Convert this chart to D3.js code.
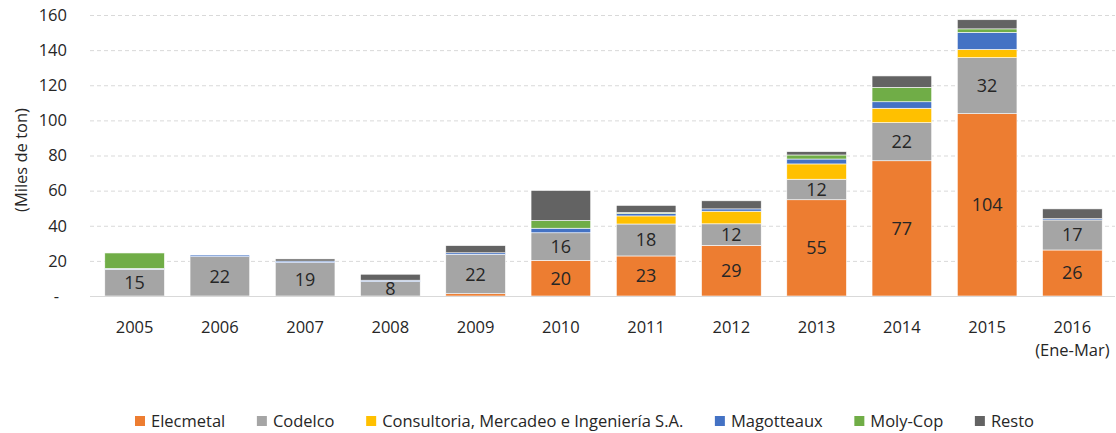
<!DOCTYPE html>
<html>
<head>
<meta charset="utf-8">
<script src="https://cdn.jsdelivr.net/npm/d3@7"></script>
<style>
  body { margin: 0; background: #fff; }
  svg text { font-family: "Open Sans", "Noto Sans", sans-serif; fill: #262626; }
</style>
</head>
<body>
<div id="chart"></div>
<script>
(function () {
  'use strict';

  // categories (2016 label has a second line)
  var years = ['2005', '2006', '2007', '2008', '2009', '2010', '2011', '2012', '2013', '2014', '2015', '2016\n(Ene-Mar)'];

  // series values, miles de ton
  var elecmetal   = [0, 0, 0, 0, 1.3, 20.3, 22.8, 28.8, 54.8, 77.0, 103.8, 26.2];
  var codelco     = [15.2, 22.4, 19.0, 8.2, 22.4, 15.7, 18.2, 12.3, 11.7, 21.7, 31.9, 17.1];
  var consultoria = [0, 0, 0, 0, 0, 0, 4.6, 7.2, 8.7, 8.2, 4.7, 0];
  var magotteaux  = [0.5, 0.9, 0.9, 0.8, 0.9, 2.6, 1.3, 1.3, 2.8, 3.7, 9.7, 0.7];
  var molycop     = [8.8, 0, 0, 0, 0, 4.4, 0.6, 0, 2.3, 8.2, 2.0, 0];
  var resto       = [0, 0, 1.2, 3.4, 4.1, 17.1, 4.1, 4.6, 1.9, 6.5, 5.2, 5.6];

  var seriesNames = ['Elecmetal', 'Codelco', 'Consultoria, Mercadeo e Ingeniería S.A.', 'Magotteaux', 'Moly-Cop', 'Resto'];
  var seriesValues = [elecmetal, codelco, consultoria, magotteaux, molycop, resto];
  var seriesColors = ['#ED7D31', '#A5A5A5', '#FFC000', '#4472C4', '#70AD47', '#636363'];
  // which series get value labels, and for which years
  var labelled = {0: ['2010', '2011', '2012', '2013', '2014', '2015', '2016\n(Ene-Mar)'], 1: years};

  var yTicks = [0, 20, 40, 60, 80, 100, 120, 140, 160];

  var width = 1116, height = 433;

  var rows = years.map(function (y, i) {
    var r = {year: y};
    seriesNames.forEach(function (n, k) { r[n] = seriesValues[k][i]; });
    return r;
  });

  var stacked = d3.stack().keys(seriesNames)(rows);

  var x = d3.scaleBand()
      .domain(years)
      .range([92, 1115])
      .paddingInner(0.3)
      .paddingOuter(0.15);

  var y = d3.scaleLinear()
      .domain([0, 160])
      .range([296, 15]);

  var svg = d3.select('#chart').append('svg')
      .attr('width', width)
      .attr('height', height);

  // gridlines
  svg.append('g').attr('class', 'grid')
      .selectAll('line')
      .data(yTicks.filter(function (d) { return d > 0; }))
      .enter()
      .append('line')
      .attr('x1', 90).attr('x2', 1115)
      .attr('y1', function (d) { return y(d) + 0.5; })
      .attr('y2', function (d) { return y(d) + 0.5; })
      .attr('stroke', '#d9d9d9')
      .attr('stroke-width', 1)
      .attr('stroke-dasharray', '4,3');

  // y axis labels
  var yAxis = d3.axisLeft(y)
      .tickValues(yTicks)
      .tickSize(0)
      .tickPadding(0)
      .tickFormat(function (d) { return d === 0 ? '-' : d; });

  var yg = svg.append('g')
      .attr('transform', 'translate(67,0)')
      .call(yAxis);
  yg.select('.domain').remove();
  yg.selectAll('text')
      .attr('font-size', 16.5)
      .attr('fill', '#262626')
      .attr('dx', function (d) { return d === 0 ? -8 : 0; });

  svg.append('text')
      .attr('transform', 'translate(21,160) rotate(-90)')
      .attr('text-anchor', 'middle')
      .attr('dy', '0.35em')
      .attr('font-size', 16.5)
      .text('(Miles de ton)');

  // bars
  var layers = svg.append('g').selectAll('g.layer')
      .data(stacked)
      .enter()
      .append('g')
      .attr('class', 'layer')
      .attr('fill', function (d, i) { return seriesColors[i]; });

  layers.selectAll('rect')
      .data(function (d) { return d; })
      .enter()
      .append('rect')
      .attr('x', function (d) { return x(d.data.year); })
      .attr('width', x.bandwidth())
      .attr('y', function (d) { return y(d[1]); })
      .attr('height', function (d) { return Math.max(0, y(d[0]) - y(d[1])); })
      .attr('stroke', '#fff')
      .attr('stroke-width', function (d) { return d[1] - d[0] > 0 ? 0.6 : 0; });

  // x axis baseline
  svg.append('line')
      .attr('x1', 90).attr('x2', 1115)
      .attr('y1', y(0) + 0.5).attr('y2', y(0) + 0.5)
      .attr('stroke', '#d9d9d9')
      .attr('stroke-width', 1.2);

  // value labels
  stacked.forEach(function (layer, k) {
    if (!labelled[k]) return;
    svg.append('g').selectAll('text')
        .data(layer.filter(function (d) { return labelled[k].indexOf(d.data.year) >= 0; }))
        .enter()
        .append('text')
        .attr('x', function (d) { return x(d.data.year) + x.bandwidth() / 2; })
        .attr('y', function (d) { return (y(d[0]) + y(d[1])) / 2; })
        .attr('dy', '0.36em')
        .attr('text-anchor', 'middle')
        .attr('font-size', 18)
        .text(function (d) { return Math.round(d[1] - d[0]); });
  });

  // x axis labels
  var xl = svg.append('g').selectAll('text')
      .data(years)
      .enter()
      .append('text')
      .attr('x', function (d) { return x(d) + x.bandwidth() / 2; })
      .attr('y', 333)
      .attr('text-anchor', 'middle')
      .attr('font-size', 16.5);

  xl.selectAll('tspan')
      .data(function (d) { return d.split('\n'); })
      .enter()
      .append('tspan')
      .attr('x', function () { return this.parentNode.getAttribute('x'); })
      .attr('dy', function (d, i) { return i ? 23 : 0; })
      .text(function (d) { return d; });

  // legend, spread to the reference width
  var legendLeft = 135, legendRight = 1034;
  var legend = svg.append('g').attr('transform', 'translate(' + legendLeft + ',421)');
  var items = legend.selectAll('g')
      .data(seriesNames)
      .enter()
      .append('g');

  items.append('rect')
      .attr('width', 10).attr('height', 10)
      .attr('y', -5)
      .attr('fill', function (d, i) { return seriesColors[i]; });

  items.append('text')
      .attr('x', 16)
      .attr('dy', '0.35em')
      .attr('font-size', 16.5)
      .text(function (d) { return d; });

  var itemWidths = [];
  items.each(function () {
    itemWidths.push(16 + d3.select(this).select('text').node().getComputedTextLength());
  });
  var gap = (legendRight - legendLeft - d3.sum(itemWidths)) / (itemWidths.length - 1);
  var lx = 0;
  items.each(function (d, i) {
    d3.select(this).attr('transform', 'translate(' + lx + ',0)');
    lx += itemWidths[i] + gap;
  });
}());
</script>
</body>
</html>
